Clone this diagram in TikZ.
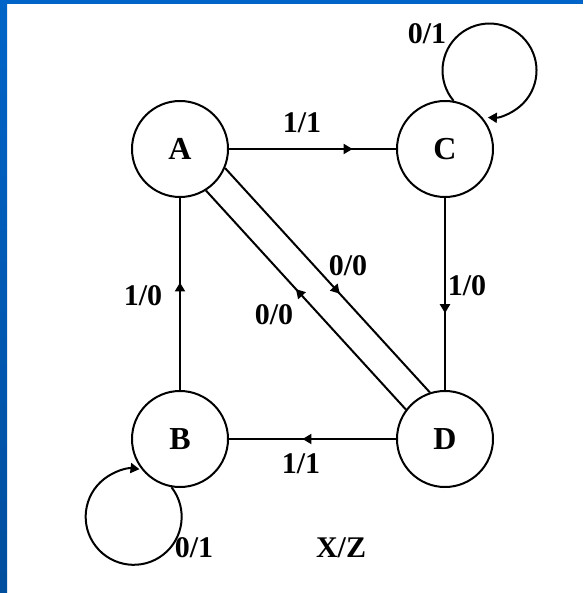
\documentclass[tikz,border=0pt]{standalone}
\usepackage{fontspec}
\setmainfont{Liberation Serif}
\usetikzlibrary{arrows.meta,decorations.markings}
\definecolor{slideblue}{RGB}{0,100,200}
\definecolor{slidebluedark}{RGB}{0,78,158}
\tikzset{
	state/.style={draw,circle,minimum size=96pt,inner sep=0pt,font=\fontsize{32}{32}\selectfont\bfseries},
	lbl/.style={font=\fontsize{30}{30}\selectfont\bfseries,inner sep=0pt},
	arrowat/.style={postaction={decorate},decoration={markings,mark=at position #1 with {\arrow{Triangle[length=9pt,width=10pt]}}}},
	endarrow/.style={-{Triangle[length=9pt,width=10pt]}}
}
\begin{document}
\begin{tikzpicture}[x=1pt,y=-1pt,line width=2pt]
		\useasboundingbox (0,0) rectangle (583,593);
		\fill[white] (0,0) rectangle (583,593);
		\shade[top color=slideblue,bottom color=slidebluedark] (0,0) rectangle (7,593);
		\fill[slideblue] (0,0) rectangle (583,4);
		\node[state] (A) at (180,149) {A};
		\node[state] (C) at (445,149) {C};
		\node[state] (B) at (180,439) {B};
		\node[state] (D) at (445,439) {D};
		\draw[arrowat=0.74] (A) -- (C);
		\draw[arrowat=0.6] (C) -- (D);
		\draw[arrowat=0.56] (D) -- (B);
		\draw[arrowat=0.56] (B) -- (A);
		\draw[arrowat=0.56] (A.-23) -- (D.108);
		\draw[arrowat=0.55] (D.143) -- (A.-58);
		\draw[endarrow] (C.80) arc[start angle=-220,end angle=92,radius=47];
		\draw[endarrow] (B.-100) arc[start angle=-38,end angle=277,radius=48];
		\node[lbl] (lAC) at (302,123) {1/1};
		\node[lbl] (lCC) at (427,34) {0/1};
		\node[lbl] (lCD) at (467,286) {1/0};
		\node[lbl] (lBA) at (143,296) {1/0};
		\node[lbl] (lAD) at (348,266) {0/0};
		\node[lbl] (lDA) at (274,315) {0/0};
		\node[lbl] (lDB) at (301,464) {1/1};
		\node[lbl] (lBB) at (194,548) {0/1};
		\node[lbl] (xz) at (341,548) {X/Z};
\end{tikzpicture}
\end{document}
